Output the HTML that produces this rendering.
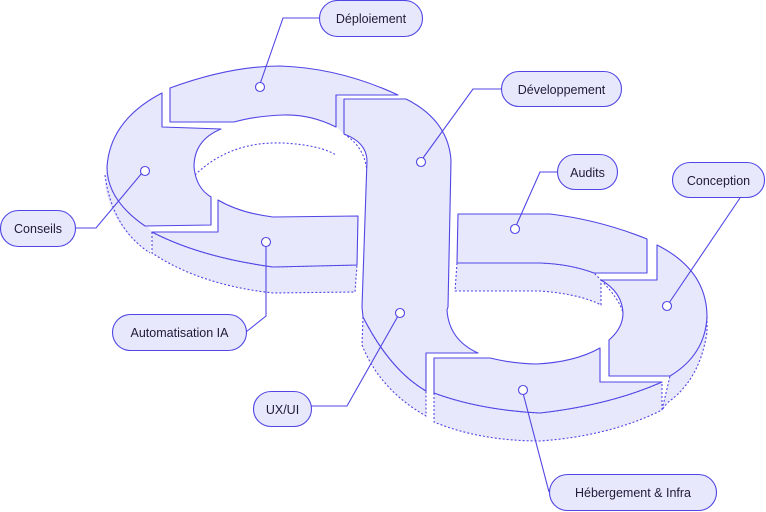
<!DOCTYPE html>
<html><head><meta charset="utf-8"><style>
html,body{margin:0;padding:0;background:#fff;width:766px;height:512px;overflow:hidden}
svg{display:block}
text{font-family:"Liberation Sans",sans-serif;font-size:12.5px;fill:#1e1b3a}
</style></head><body>
<svg width="766" height="512" viewBox="0 0 766 512" xmlns="http://www.w3.org/2000/svg">
<g fill="#e8e8fc" stroke="#5146e5" stroke-width="1.1" stroke-linejoin="round">
<!-- walls (dotted) -->
<path d="M107,167 L105,185 Q112,228 150,253 L152,232 Z" stroke="none"/>
<path d="M105,175 Q112,228 150,253" fill="none" stroke-dasharray="2,2"/>
<path d="M152,232 L152,253 Q200,285 273,293 L355,292 L357,265 L273,267 Q200,257 152,232 Z" stroke-dasharray="2,2"/>
<path d="M457,263 L455,291 L540,291 Q580,294 601,305 L601,280 L594,273 Q570,264 540,263 Z" stroke-dasharray="2,2"/>
<path d="M707,317 L707,332 Q700,380 667,403 L662,410 L670,376 Z" stroke-dasharray="2,2"/>
<path d="M434,393 L434,422 Q480,441 540,441 Q610,436 662,410 L662,382 Q610,405 540,413 Q480,410 434,393 Z" stroke-dasharray="2,2"/>
<path d="M363,317 L362,345 Q380,390 426,416 L426,391 Q390,370 363,317 Z" stroke-dasharray="2,2"/>
<path d="M195,175 Q230,141 283,143 Q320,145 336,155" fill="none" stroke-dasharray="2,2"/>
<path d="M336,95 L344,99 L344,134 L336,127 Z" stroke="none"/>
<path d="M344,134 Q370,150 367,185" fill="none" stroke-dasharray="2,2"/>
<path d="M601,280 Q620,300 623,313" fill="none" stroke-dasharray="2,2"/>
<!-- Deploiement -->
<path d="M170,88 Q230,66 280,66 Q340,68 398,95 L336,95 L336,127 Q310,114 283,115 Q255,116 234,122 L170,122 Z"/>
<!-- Conseils -->
<path d="M162,93 L162,127 L221,129 Q194,140 194,167 Q196,188 211,197 L211,225 L145,226 Q107,200 107,167 Q110,120 162,93 Z"/>
<!-- Automatisation -->
<path d="M218,200 L218,232 L152,232 Q200,257 273,267 L357,265 L358,216 L273,217 Q240,213 218,200 Z"/>
<!-- S piece -->
<path d="M344,99 L406,99 Q448,120 451,160 L448,307 Q447,310 447,310 Q449,340 478,353 L426,353 L426,391 Q390,370 363,317 L362,307 L367,160 Q366,142 344,134 Z"/>
<!-- Audits -->
<path d="M458,214 L550,214 Q600,220 647,239 L647,273 L594,273 Q570,264 540,263 L457,263 Z"/>
<!-- Conception -->
<path d="M657,245 Q707,270 707,317 Q705,355 670,376 L609,376 L609,340 Q623,328 623,313 Q622,292 601,280 L657,280 Z"/>
<!-- Hebergement -->
<path d="M434,358 L490,358 Q515,364 537,364 Q575,362 600,348 L600,382 L662,382 Q610,405 540,413 Q480,410 434,393 Z"/>
</g>
<!-- leaders -->
<g fill="none" stroke="#5146e5" stroke-width="1.1">
<path d="M260,84 L283,18 L319,18"/>
<path d="M423,158 L473,89 L501,89"/>
<path d="M516,226 L540,172 L557,172"/>
<path d="M669,303 L740,198"/>
<path d="M142,173 L96,228 L75,228"/>
<path d="M266,245 L266,316 L246,332"/>
<path d="M398,316 L347,406 L311,406"/>
<path d="M523,393 L549,492"/>
</g>
<g fill="#fff" stroke="#5146e5" stroke-width="1.1">
<circle cx="260" cy="87" r="4.5"/><circle cx="421" cy="162" r="4.5"/>
<circle cx="515" cy="229" r="4.5"/><circle cx="667" cy="306" r="4.5"/>
<circle cx="145" cy="171" r="4.5"/><circle cx="266" cy="242" r="4.5"/>
<circle cx="400" cy="313" r="4.5"/><circle cx="523" cy="390" r="4.5"/>
</g>
<!-- labels -->
<g fill="#e8e8fc" stroke="#5146e5" stroke-width="1.1">
<rect x="319.5" y="0.5" width="103" height="36" rx="18"/>
<rect x="501.5" y="71.5" width="120" height="35" rx="17.5"/>
<rect x="557.5" y="154.5" width="60" height="35" rx="17.5"/>
<rect x="672.5" y="162.5" width="92" height="35" rx="17.5"/>
<rect x="0.5" y="210.5" width="75" height="36" rx="18"/>
<rect x="112.5" y="314.5" width="134" height="36" rx="18"/>
<rect x="253.5" y="391.5" width="58" height="35" rx="17.5"/>
<rect x="549.5" y="474.5" width="167" height="36" rx="18"/>
</g>
<g text-anchor="middle">
<text x="371" y="23">Déploiement</text>
<text x="561.5" y="94">Développement</text>
<text x="587.5" y="177">Audits</text>
<text x="718.5" y="185">Conception</text>
<text x="38" y="233">Conseils</text>
<text x="179.5" y="337">Automatisation IA</text>
<text x="282.5" y="414">UX/UI</text>
<text x="633" y="497">Hébergement &amp; Infra</text>
</g>
</svg>
</body></html>
